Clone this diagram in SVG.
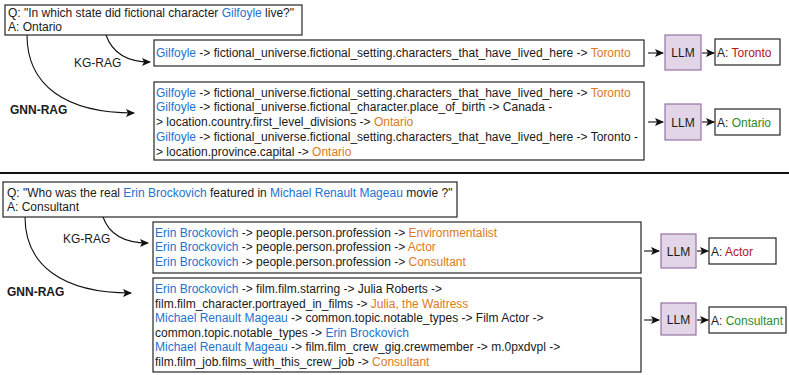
<svg xmlns="http://www.w3.org/2000/svg" width="789" height="375" viewBox="0 0 789 375">
<defs>
<style>
text{font-family:"Liberation Sans",Arial,sans-serif;font-size:12px;fill:#1a1a1a}
.box{fill:#fff;stroke:#262626;stroke-width:1.2}
.llm{fill:#e1d5e7;stroke:#9673a6;stroke-width:1.2}
.e{fill:#2272d0}
.o{fill:#dd7a1c}
.r{fill:#b3141c}
.g{fill:#2b8a2b}
.lbl{font-size:12px}
.b{font-weight:bold}
.c{fill:none;stroke:#111;stroke-width:1.1}
</style>
<marker id="ah" markerWidth="9" markerHeight="8" refX="8" refY="4" orient="auto" markerUnits="userSpaceOnUse">
<path d="M0,0 L9,4 L0,8 L2,4 z" fill="#111"/>
</marker>
</defs>
<rect width="789" height="375" fill="#fff"/>

<!-- Top example -->
<g id="q1">
<rect class="box" x="5" y="5" width="297" height="30"/>
<text x="8" y="17">Q: "In which state did fictional character <tspan class="e">Gilfoyle</tspan> live?"</text>
<text x="8" y="30.5">A: Ontario</text>
</g>
<g id="kg1">
<rect class="box" x="154" y="40" width="490" height="26"/>
<text x="156" y="56.5"><tspan class="e">Gilfoyle</tspan> -&gt; fictional_universe.fictional_setting.characters_that_have_lived_here -&gt; <tspan class="o">Toronto</tspan></text>
</g>
<g id="gnn1">
<rect class="box" x="154" y="82" width="490" height="78"/>
<text x="156" y="96.5"><tspan class="e">Gilfoyle</tspan> -&gt; fictional_universe.fictional_setting.characters_that_have_lived_here -&gt; <tspan class="o">Toronto</tspan></text>
<text x="156" y="111"><tspan class="e">Gilfoyle</tspan> -&gt; fictional_universe.fictional_character.place_of_birth -&gt; Canada -</text>
<text x="156" y="126">&gt; location.country.first_level_divisions -&gt; <tspan class="o">Ontario</tspan></text>
<text x="156" y="141"><tspan class="e">Gilfoyle</tspan> -&gt; fictional_universe.fictional_setting.characters_that_have_lived_here -&gt; Toronto -</text>
<text x="156" y="155.5">&gt; location.province.capital -&gt; <tspan class="o">Ontario</tspan></text>
</g>
<g id="llm1a">
<rect class="llm" x="665" y="35" width="36" height="35"/>
<text x="683" y="57" text-anchor="middle">LLM</text>
</g>
<g id="ans1a">
<rect class="box" x="715" y="39" width="65" height="26"/>
<text x="717" y="56.5">A: <tspan class="r">Toronto</tspan></text>
</g>
<g id="llm1b">
<rect class="llm" x="665" y="104" width="36" height="36"/>
<text x="683" y="126.5" text-anchor="middle">LLM</text>
</g>
<g id="ans1b">
<rect class="box" x="715" y="109" width="65" height="26"/>
<text x="717" y="126.5">A: <tspan class="g">Ontario</tspan></text>
</g>
<text class="lbl" x="74" y="66.5">KG-RAG</text>
<text class="lbl b" x="10" y="113.5">GNN-RAG</text>

<line x1="0" y1="173" x2="789" y2="173" stroke="#111" stroke-width="2"/>

<!-- Bottom example -->
<g id="q2">
<rect class="box" x="3" y="182" width="454" height="35"/>
<text x="7" y="196.5"><tspan>Q: "Who was the real </tspan><tspan class="e">Erin Brockovich</tspan> featured in <tspan class="e">Michael Renault Mageau</tspan> movie ?"</text>
<text x="7" y="211">A: Consultant</text>
</g>
<g id="kg2">
<rect class="box" x="153" y="222" width="488" height="51"/>
<text x="155" y="236.5"><tspan class="e">Erin Brockovich</tspan> -&gt; people.person.profession -&gt; <tspan class="o">Environmentalist</tspan></text>
<text x="155" y="251"><tspan class="e">Erin Brockovich</tspan> -&gt; people.person.profession -&gt; <tspan class="o">Actor</tspan></text>
<text x="155" y="266"><tspan class="e">Erin Brockovich</tspan> -&gt; people.person.profession -&gt; <tspan class="o">Consultant</tspan></text>
</g>
<g id="gnn2">
<rect class="box" x="153" y="278" width="488" height="94"/>
<text x="155" y="293"><tspan class="e">Erin Brockovich</tspan> -&gt; film.film.starring -&gt; Julia Roberts -&gt;</text>
<text x="155" y="307.5">film.film_character.portrayed_in_films -&gt; <tspan class="o">Julia, the Waitress</tspan></text>
<text x="155" y="322"><tspan class="e">Michael Renault Mageau</tspan> -&gt; common.topic.notable_types -&gt; Film Actor -&gt;</text>
<text x="155" y="336.5">common.topic.notable_types -&gt; <tspan class="e">Erin Brockovich</tspan></text>
<text x="155" y="351"><tspan class="e">Michael Renault Mageau</tspan> -&gt; film.film_crew_gig.crewmember -&gt; m.0pxdvpl -&gt;</text>
<text x="155" y="365.5">film.film_job.films_with_this_crew_job -&gt; <tspan class="o">Consultant</tspan></text>
</g>
<g id="llm2a">
<rect class="llm" x="661" y="234" width="35" height="34"/>
<text x="678.5" y="255.5" text-anchor="middle">LLM</text>
</g>
<g id="ans2a">
<rect class="box" x="709" y="238" width="67" height="26"/>
<text x="711" y="255.5">A: <tspan class="r">Actor</tspan></text>
</g>
<g id="llm2b">
<rect class="llm" x="661" y="303" width="35" height="32"/>
<text x="678.5" y="324" text-anchor="middle">LLM</text>
</g>
<g id="ans2b">
<rect class="box" x="709" y="307" width="77" height="26"/>
<text x="711" y="324.5">A: <tspan class="g">Consultant</tspan></text>
</g>
<text class="lbl" x="63" y="242.5">KG-RAG</text>
<text class="lbl b" x="7" y="295.5">GNN-RAG</text>

<g id="connectors">
<path class="c" d="M106,35 C112,52 126,62 150,62" marker-end="url(#ah)"/>
<path class="c" d="M27,35 C27,85 65,113 134,113" marker-end="url(#ah)"/>
<line class="c" x1="648" y1="53" x2="663" y2="53" marker-end="url(#ah)"/>
<line class="c" x1="702" y1="53" x2="714" y2="53" marker-end="url(#ah)"/>
<line class="c" x1="648" y1="122" x2="663" y2="122" marker-end="url(#ah)"/>
<line class="c" x1="702" y1="122" x2="714" y2="122" marker-end="url(#ah)"/>
<path class="c" d="M103,217 C109,234 124,243 148,243" marker-end="url(#ah)"/>
<path class="c" d="M25,217 C25,265 62,293 131,293" marker-end="url(#ah)"/>
<line class="c" x1="644" y1="251" x2="659" y2="251" marker-end="url(#ah)"/>
<line class="c" x1="697" y1="251" x2="708" y2="251" marker-end="url(#ah)"/>
<line class="c" x1="644" y1="320" x2="659" y2="320" marker-end="url(#ah)"/>
<line class="c" x1="697" y1="320" x2="708" y2="320" marker-end="url(#ah)"/>
</g>
</svg>
